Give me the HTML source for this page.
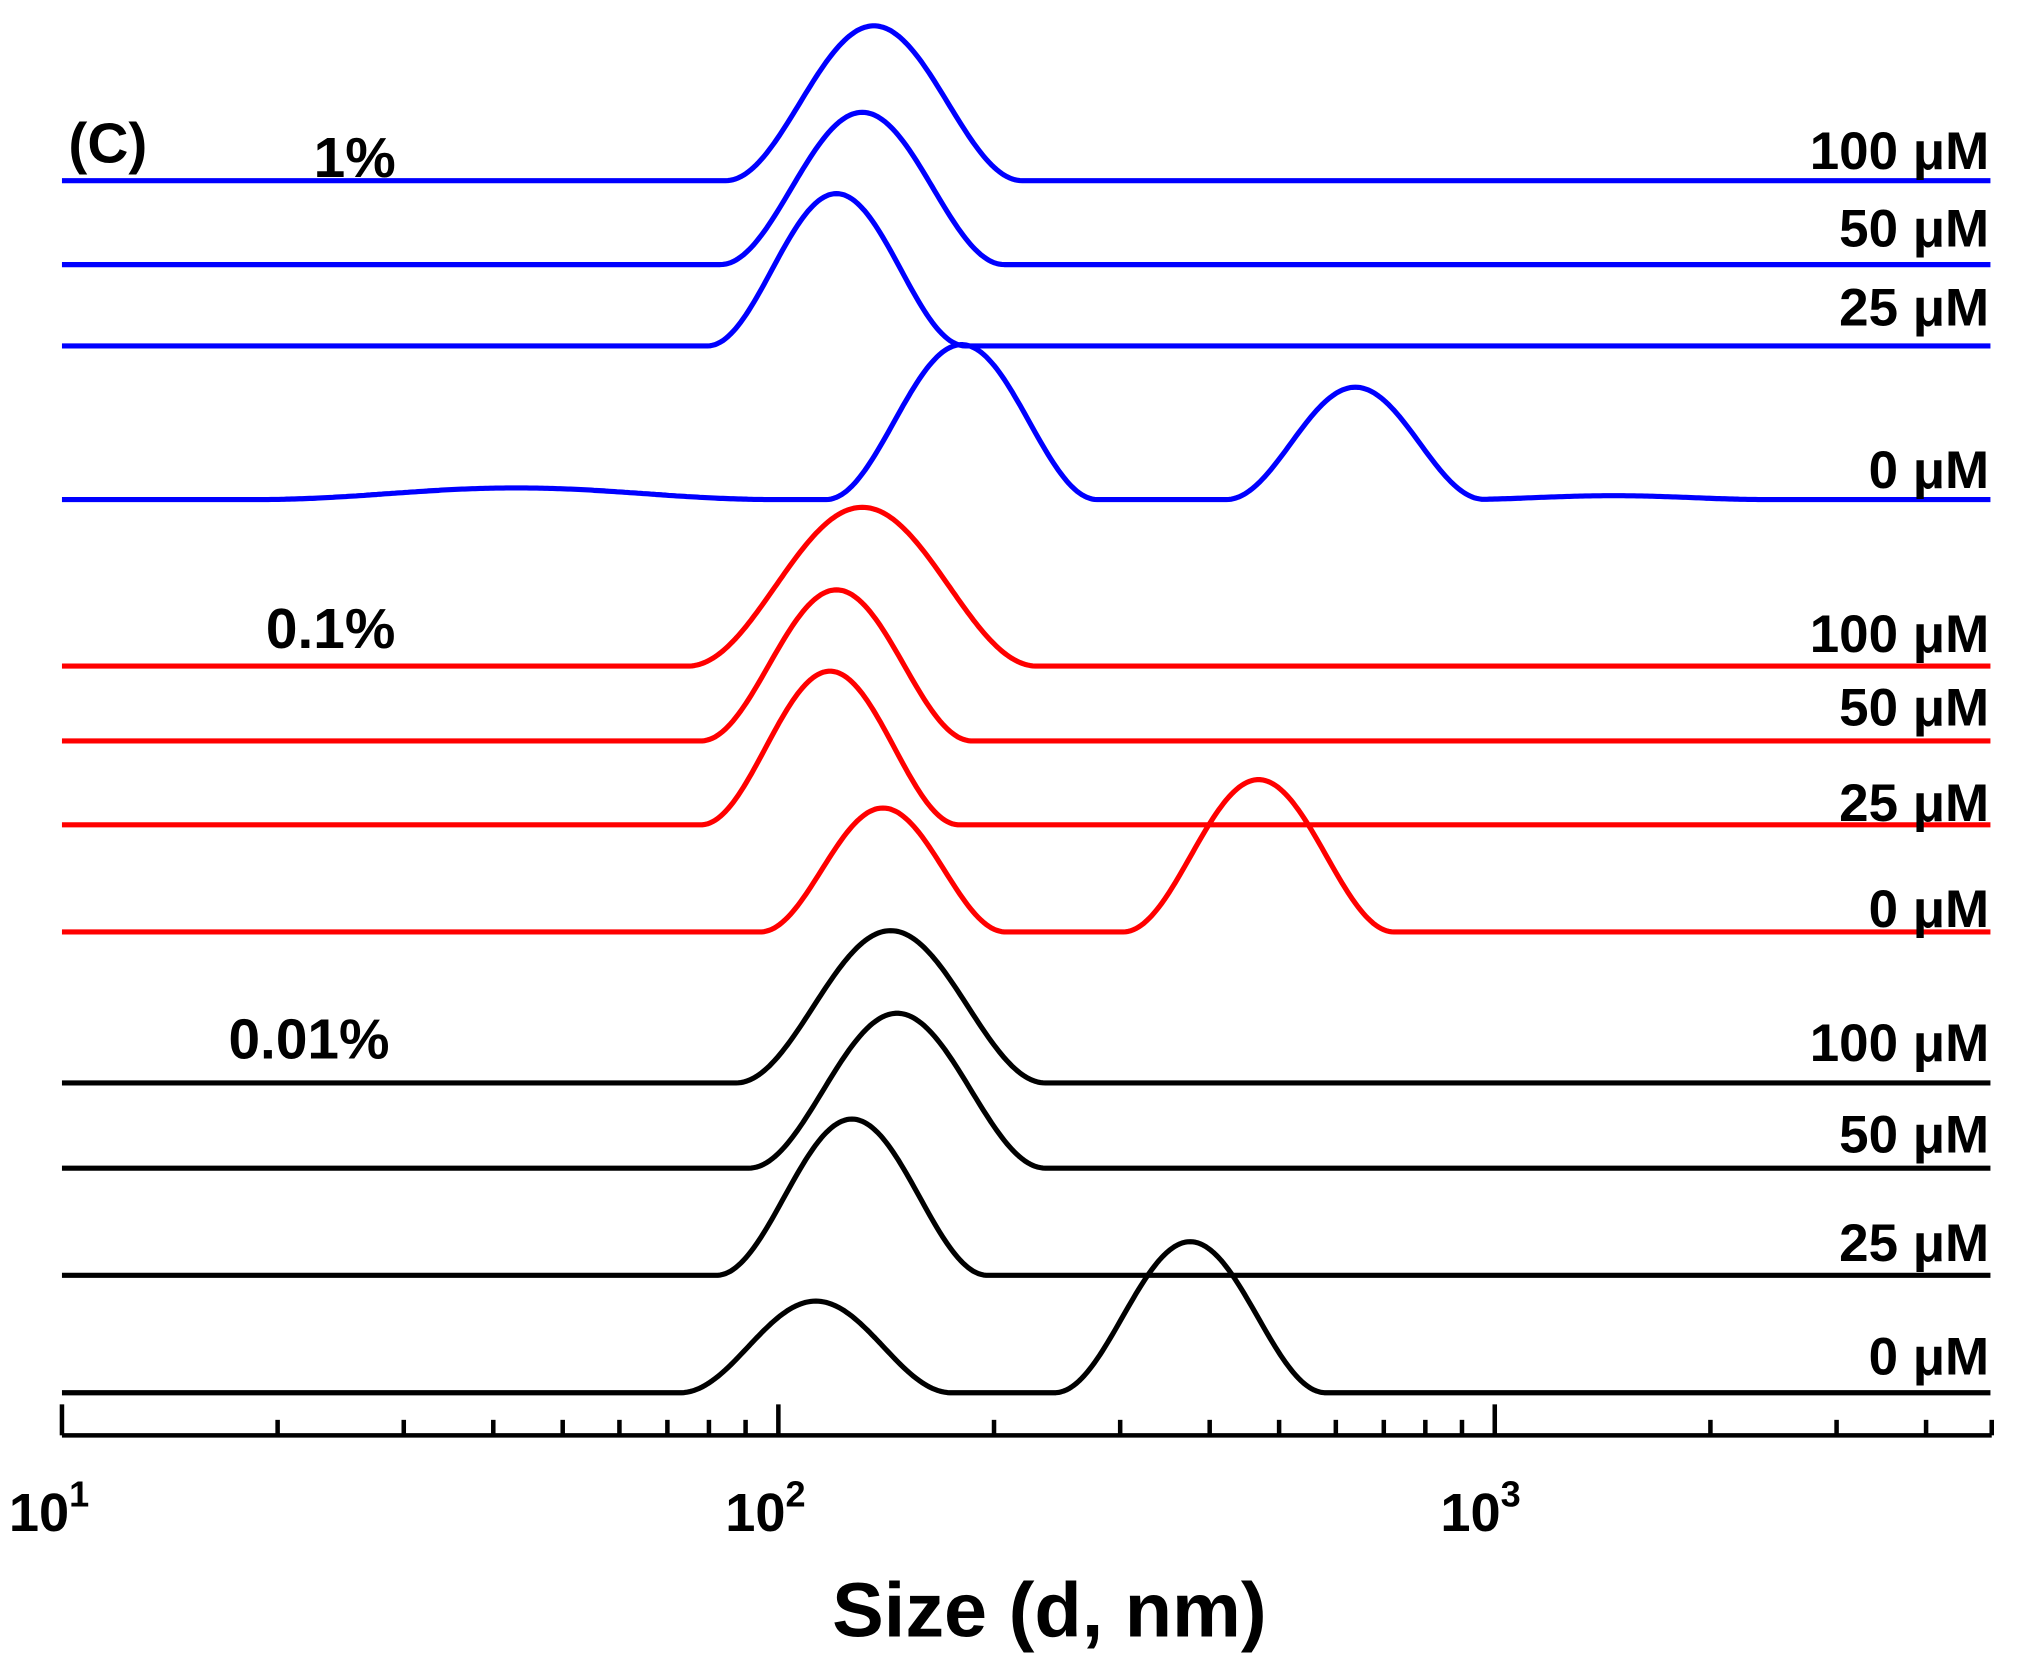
<!DOCTYPE html>
<html><head><meta charset="utf-8"><style>
html,body{margin:0;padding:0;background:#fff}
svg{display:block}
text{font-family:"Liberation Sans",sans-serif;font-weight:bold}
</style></head><body>
<svg id="s" width="2024" height="1678" viewBox="0 0 1568 1300" preserveAspectRatio="none" xmlns="http://www.w3.org/2000/svg">
<g id="curves" fill="none" stroke-width="4" stroke-linejoin="round"></g>
<g stroke="#000" stroke-width="3.5" id="axis">
<line x1="48" y1="1112" x2="1543" y2="1112"/>
</g>
<g font-size="41" text-anchor="end">
<text x="1541" y="131">100 μM</text>
<text x="1541" y="191">50 μM</text>
<text x="1541" y="252">25 μM</text>
<text x="1541" y="378">0 μM</text>
<text x="1541" y="505">100 μM</text>
<text x="1541" y="562">50 μM</text>
<text x="1541" y="636">25 μM</text>
<text x="1541" y="718">0 μM</text>
<text x="1541" y="822">100 μM</text>
<text x="1541" y="893">50 μM</text>
<text x="1541" y="977">25 μM</text>
<text x="1541" y="1065">0 μM</text>
</g>
<g font-size="44">
<text x="53" y="126">(C)</text>
<text x="243" y="137">1%</text>
<text x="206" y="502">0.1%</text>
<text x="177" y="820">0.01%</text>
</g>
<g font-size="42" text-anchor="middle">
<text x="38" y="1186">10<tspan font-size="28" dy="-19">1</tspan></text>
<text x="593" y="1186">10<tspan font-size="28" dy="-19">2</tspan></text>
<text x="1147" y="1186">10<tspan font-size="28" dy="-19">3</tspan></text>
</g>
<text x="813" y="1268" font-size="60" text-anchor="middle">Size (d, nm)</text>
</svg>
<script>
var ns="http://www.w3.org/2000/svg";
function X(d){return 48+555*Math.log10(d/10);}
var ax=document.getElementById("axis");
for(var dec=10;dec<=1000;dec*=10){for(var m=1;m<10;m++){var d=dec*m;var x=X(d);if(x>1544)break;
var l=document.createElementNS(ns,"line");l.setAttribute("x1",x);l.setAttribute("x2",x);l.setAttribute("y1",1112);l.setAttribute("y2",m==1?1088:1100);ax.appendChild(l);}}
var l=document.createElementNS(ns,"line");l.setAttribute("x1",1543);l.setAttribute("x2",1543);l.setAttribute("y1",1112);l.setAttribute("y2",1100);ax.appendChild(l);
var B="#0000ff",R="#ff0000",K="#000";
var C=[
[B,140,[[677,120,115]]],
[B,205,[[668,118,110]]],
[B,268,[[648,118,100]]],
[B,387,[[400,9,200],[745,120,105],[1050,87,100],[1250,3,120]]],
[R,516,[[668,123,135]]],
[R,574,[[648,117,105]]],
[R,639,[[643,119,100]]],
[R,722,[[684,96,95],[975,118,105]]],
[K,839,[[690,118,120]]],
[K,905,[[695,120,115]]],
[K,988,[[660,121,105]]],
[K,1079,[[632,71,105],[922,117,105]]]
];
var g=document.getElementById("curves");
C.forEach(function(c){var p="";for(var x=48;x<=1543;x+=2){var y=c[1];c[2].forEach(function(b){var dx=(x-b[0])/b[2];if(Math.abs(dx)<1)y-=b[1]*(1+Math.cos(Math.PI*dx))/2;});p+=(x==48?"M":"L")+x+" "+y.toFixed(1);}
var e=document.createElementNS(ns,"path");e.setAttribute("d",p);e.setAttribute("stroke",c[0]);g.appendChild(e);});
</script>
</body></html>
